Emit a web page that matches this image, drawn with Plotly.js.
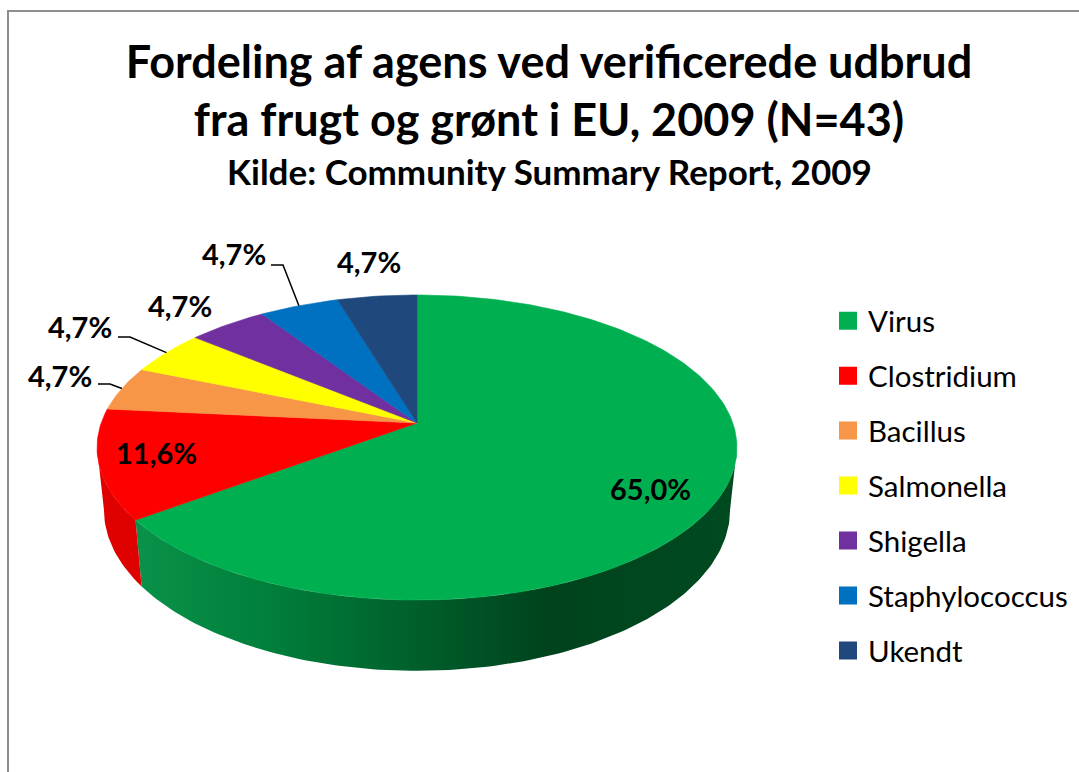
<!DOCTYPE html>
<html><head><meta charset="utf-8">
<script src="https://cdn.plot.ly/plotly-3.0.1.min.js"></script>
<style>html,body{margin:0;padding:0;background:#fff;overflow:hidden}</style>
</head><body><div id="chart" style="width:1079px;height:772px"></div>
<script>
const categories = ['Virus','Clostridium','Bacillus','Salmonella','Shigella','Staphylococcus','Ukendt'];
const shares = [65.0,11.6,4.7,4.7,4.7,4.7,4.7];
const sliceColors = ['#00B050','#FF0000','#F79646','#FFFF00','#7030A0','#0070C0','#1F497D'];
const wallColors = [null,'#DF0000',null,null,null,null,null];
const greenWallStops = [[0,'#0A9149'],[0.22,'#007F3A'],[0.46,'#005F2C'],[0.68,'#00431D'],[1,'#004A20']];

// Pie geometry (a tilted disc in perspective, in page pixels)
const cx=417, persp=0.1607;
const top_={cy:423,rx:315.8,ry:148.6}, base={cy:484,rx:309,ry:156.8};
function ring(g,deg){const t=deg*Math.PI/180,X=Math.sin(t),s=-Math.cos(t),d=1-persp*s;
  return [cx+g.rx*X/d, g.cy+g.ry*s/d];}
function arc(g,a0,a1){const o=[];const n=Math.max(2,Math.ceil(Math.abs(a1-a0)));
  for(let i=0;i<=n;i++)o.push(ring(g,a0+(a1-a0)*i/n));return o;}

const total=shares.reduce((a,b)=>a+b,0);
let c=0; const ranges=shares.map(v=>{const a=c/total*360;c+=v;return [a,c/total*360];});
const traces=[];

// side walls: only the part facing the viewer, between the two silhouette tangents
const tangent=Math.acos(persp)*180/Math.PI;
ranges.forEach(([a0,a1],i)=>{
  const from=Math.max(a0,90+(90-tangent)), to=Math.min(a1,270-(90-tangent));
  if(to<=from) return;
  const pts=arc(top_,from,to).concat(arc(base,from,to).reverse());
  pts.push(pts[0]);
  const t={x:pts.map(p=>p[0]),y:pts.map(p=>p[1]),mode:'lines',fill:'toself',line:{width:0},
    hoverinfo:'skip',showlegend:false};
  if(wallColors[i]) t.fillcolor=wallColors[i];
  else t.fillgradient={type:'horizontal',colorscale:greenWallStops,start:141,stop:737};
  traces.push(t);
});
// top faces
ranges.forEach(([a0,a1],i)=>{
  const pts=[[cx,top_.cy]].concat(arc(top_,a0,a1)); pts.push([cx,top_.cy]);
  traces.push({x:pts.map(p=>p[0]),y:pts.map(p=>p[1]),mode:'lines',fill:'toself',
    fillcolor:sliceColors[i],line:{width:0.6,color:sliceColors[i]},
    name:categories[i],text:categories[i],hoverinfo:'text',showlegend:false});
});
// legend entries
categories.forEach((n,i)=>traces.push({x:[null],y:[null],mode:'markers',name:n,legendgroup:n,
  marker:{symbol:'square',size:16,color:sliceColors[i],line:{width:2,color:sliceColors[i]}}}));

// labels
const fmt=v=>v.toFixed(1).replace('.',',')+'%';
const labelAt=[[650,488],[156,452],[60,375],[80,326],[180,305],[234,253],[369,261]];
const leaderElbow=[null,null,[[98,384],[110,384]],[[118,337],[130,337]],null,[[271,265],[283,265]],null];
const anns=shares.map((v,i)=>({x:labelAt[i][0],y:labelAt[i][1],text:'<b>'+fmt(v)+'</b>',showarrow:false,
  xanchor:'center',yanchor:'middle',font:{family:'Lato',size:29,color:'#000'}}));
leaderElbow.forEach((e,i)=>{ if(!e) return;
  const p=ring(top_,(ranges[i][0]+ranges[i][1])/2);
  const pts=e.concat([p]);
  traces.push({x:pts.map(q=>q[0]),y:pts.map(q=>q[1]),mode:'lines',line:{color:'#000',width:1.5},hoverinfo:'skip',showlegend:false});
});
anns.push({x:549,y:171,text:'<b>Kilde: Community Summary Report, 2009</b>',showarrow:false,xanchor:'center',yanchor:'middle',
  font:{family:'Lato',size:35,color:'#000'}});

const layout={
  width:1079,height:772,margin:{l:0,r:0,t:0,b:0},paper_bgcolor:'#fff',plot_bgcolor:'#fff',
  title:{text:'<b>Fordeling af agens ved verificerede udbrud<br>fra frugt og grønt i EU, 2009 (N=43)</b>',
    font:{family:'Lato',size:45,color:'#000'},x:549/1079,xanchor:'center',y:0.899,yanchor:'top',yref:'paper'},
  xaxis:{range:[0,1079],visible:false,fixedrange:true},
  yaxis:{range:[772,0],visible:false,fixedrange:true},
  legend:{x:828/1079,y:1-295/772,xanchor:'left',yanchor:'top',tracegroupgap:13.6,itemclick:false,itemdoubleclick:false,
    bgcolor:'rgba(0,0,0,0)',borderwidth:0,font:{family:'Lato',size:29.5,color:'#000'}},
  annotations:anns,
  shapes:[
    {type:'line',xref:'x',yref:'y',x0:8,x1:8,y0:10,y1:772,line:{color:'#8E8E8E',width:2}},
    {type:'line',xref:'x',yref:'y',x0:7,x1:1079,y0:11,y1:11,line:{color:'#8E8E8E',width:2}}
  ]
};
Plotly.newPlot('chart',traces,layout,{displayModeBar:false});
</script></body></html>
